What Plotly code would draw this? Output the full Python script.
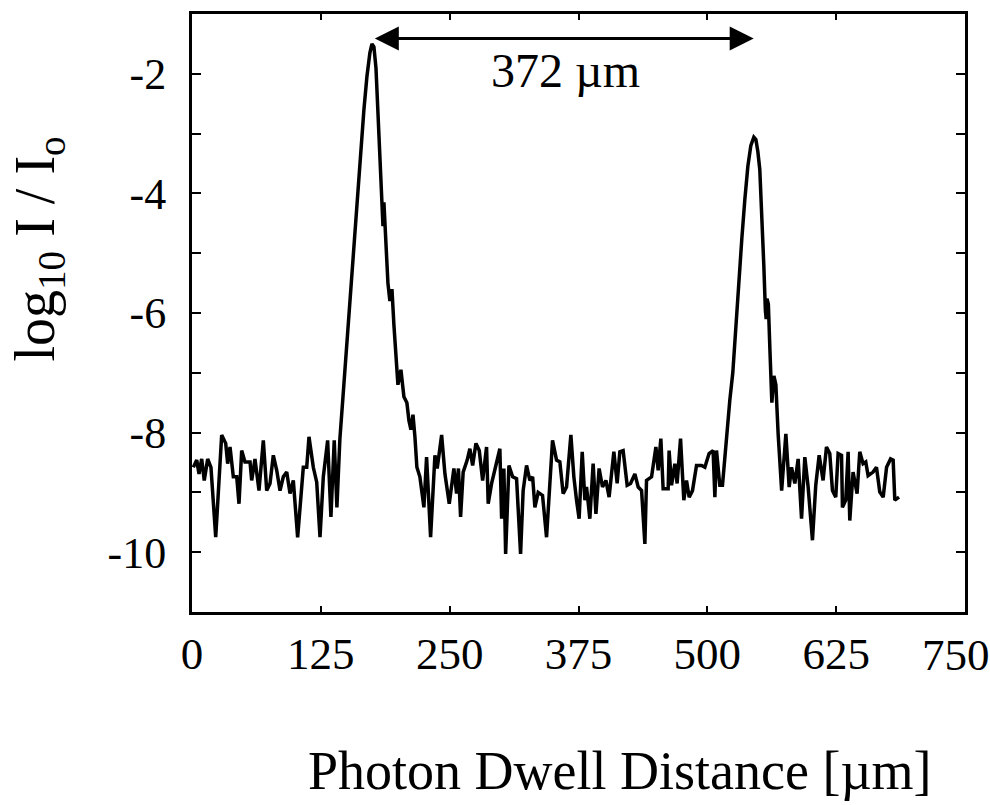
import plotly.graph_objects as go

# Photon dwell distance [um]
dist = [1.3, 4.6, 6.8, 9.4, 11.9, 15.2, 18.4, 23.0, 28.8, 32.7, 34.6, 36.9, 40.1, 43.4, 45.6,
        48.2, 51.4, 56.3, 57.9, 61.1, 65.0, 69.2, 72.5, 75.7, 78.9, 82.2, 85.4, 88.6, 91.9,
        95.1, 98.3, 102.5, 108.0, 111.3, 113.5, 117.7, 121.0, 124.2, 127.4, 131.6, 134.8,
        138.0, 140.6, 143.5, 146.5, 149.4, 152.3, 155.2, 158.1, 161.0, 163.9, 166.8, 169.7,
        172.6, 174.6, 176.5, 178.5, 180.4, 182.3, 184.3, 185.3, 186.2, 188.2, 190.1, 192.0,
        194.0, 195.9, 197.9, 199.8, 202.7, 205.6, 208.5, 210.5, 212.4, 214.4, 216.3, 218.2,
        221.1, 225.0, 227.6, 231.5, 235.7, 237.9, 242.2, 245.4, 249.6, 254.1, 256.7, 258.5,
        260.6, 263.1, 267.0, 269.6, 272.3, 275.5, 278.7, 282.0, 285.8, 287.4, 290.7, 293.9,
        298.7, 300.4, 302.6, 304.3, 307.5, 311.1, 314.9, 318.8, 321.3, 324.6, 327.8, 330.5,
        332.7, 335.9, 340.1, 344.0, 349.8, 353.7, 356.9, 360.1, 363.4, 367.6, 370.5, 373.1,
        375.6, 378.6, 381.2, 382.8, 386.0, 389.2, 391.9, 395.0, 398.3, 401.6, 404.7, 409.3,
        412.5, 415.1, 418.3, 422.2, 425.5, 429.7, 432.9, 436.2, 439.4, 441.0, 445.9, 450.1,
        452.3, 454.9, 457.1, 462.0, 462.9, 465.3, 468.5, 470.7, 474.0, 477.2, 479.8, 482.4,
        485.6, 489.5, 494.4, 497.6, 501.7, 505.6, 507.3, 508.9, 512.1, 514.7, 518.6, 521.8,
        524.7, 527.6, 530.6, 533.5, 536.4, 539.3, 542.2, 545.1, 547.1, 549.0, 550.9, 552.9,
        554.8, 556.3, 557.1, 557.8, 559.2, 560.7, 561.7, 562.6, 564.6, 566.5, 568.7, 572.1,
        576.2, 579.4, 581.7, 584.9, 588.1, 591.4, 594.6, 597.8, 602.0, 605.2, 608.5, 612.3,
        615.6, 618.8, 621.4, 624.6, 626.9, 630.2, 631.1, 634.3, 636.6, 638.2, 641.4, 645.3,
        647.9, 651.1, 653.7, 656.0, 660.8, 664.1, 667.3, 670.6, 673.9, 677.8, 680.3, 681.9,
        686.0]

# log10 I / Io
log_i = [-8.58, -8.46, -8.69, -8.44, -8.80, -8.44, -8.58, -9.75, -8.04, -8.18, -8.52, -8.24,
         -8.74, -8.74, -9.19, -8.30, -8.49, -8.49, -8.80, -8.44, -8.97, -8.13, -8.97, -8.85,
         -8.38, -8.63, -8.97, -8.74, -8.66, -9.02, -8.80, -9.75, -8.58, -8.58, -8.07, -8.58,
         -8.83, -9.75, -8.74, -8.13, -9.41, -8.13, -9.25, -8.10, -7.40, -6.70, -6.00, -5.30,
         -4.60, -3.90, -3.20, -2.60, -2.05, -1.65, -1.50, -1.55, -1.90, -2.60, -3.50, -4.20,
         -4.55, -4.15, -4.80, -5.50, -5.80, -5.60, -6.20, -6.80, -7.20, -6.95, -7.40, -7.50,
         -7.80, -7.95, -7.70, -8.07, -8.58, -8.74, -9.25, -8.41, -9.75, -8.38, -8.60, -8.04,
         -8.69, -9.19, -8.60, -9.02, -8.60, -9.41, -8.66, -8.46, -8.27, -8.55, -8.18, -8.30,
         -8.80, -8.24, -9.19, -8.85, -8.63, -8.27, -9.44, -8.60, -10.03, -8.55, -8.74, -8.77,
         -10.03, -8.97, -8.55, -8.80, -8.74, -9.25, -9.00, -9.05, -9.75, -8.13, -8.46, -8.49,
         -9.02, -8.91, -8.04, -8.74, -9.13, -9.44, -8.32, -9.13, -8.91, -9.44, -8.52, -9.36,
         -8.60, -8.91, -8.80, -9.08, -8.32, -8.85, -8.32, -8.30, -8.88, -8.85, -8.69, -8.91,
         -8.97, -9.86, -8.80, -8.74, -8.24, -8.63, -8.10, -8.94, -8.94, -8.30, -8.88, -8.52,
         -8.85, -8.10, -9.13, -8.80, -9.08, -8.97, -8.55, -8.55, -8.58, -8.35, -8.30, -9.08,
         -8.30, -8.88, -8.88, -8.02, -7.46, -7.00, -6.20, -5.40, -4.75, -4.10, -3.55, -3.20,
         -3.06, -3.10, -3.30, -3.60, -4.30, -5.20, -5.95, -6.10, -5.76, -5.85, -6.60, -7.05,
         -7.50, -7.05, -7.20, -8.02, -8.97, -8.02, -8.91, -8.58, -8.85, -8.44, -9.44, -8.41,
         -8.91, -9.80, -8.88, -8.38, -8.80, -8.24, -8.35, -8.97, -9.08, -8.35, -8.38, -9.25,
         -9.13, -8.32, -9.47, -8.66, -9.02, -8.32, -8.52, -8.49, -8.72, -8.66, -8.58, -8.99,
         -9.08, -8.58, -8.44, -8.46, -9.13, -9.08]

x_ticks = [0, 125, 250, 375, 500, 625, 750]
x_tick_text = ["0", "125", "250", "375", "500", "625", ""]
x_last_label = "750"
y_ticks = [-10, -8, -6, -4, -2]
y_tick_text = ["-10", "-8", "-6", "-4", "-2"]
y_minor = [-11, -9, -7, -5, -3, -1]

peak_left = 175.9
peak_right = 545.0
arrow_level = -1.41
label_text = "372 µm"

FONT = "Liberation Serif"

fig = go.Figure()
fig.add_trace(go.Scatter(x=dist, y=log_i, mode="lines",
                         line=dict(color="black", width=3.5), showlegend=False))

fig.update_layout(
    width=990, height=805,
    margin=dict(l=192, r=25, t=14, b=193, autoexpand=False),
    paper_bgcolor="white", plot_bgcolor="white",
    font=dict(family=FONT, color="black"),
    showlegend=False,
)

fig.update_xaxes(
    range=[0, 750], tickmode="array", tickvals=x_ticks, ticktext=x_tick_text,
    ticks="inside", ticklen=6, tickwidth=2, tickcolor="black",
    showline=True, linewidth=3, linecolor="black", mirror="ticks",
    showgrid=False, zeroline=False, automargin=False,
    tickfont=dict(family=FONT, size=45, color="black"),
    ticklabelstandoff=0,
)
fig.update_yaxes(
    range=[-11, -1], tickmode="array", tickvals=y_ticks, ticktext=y_tick_text,
    ticks="inside", ticklen=9, tickwidth=2, tickcolor="black",
    minor=dict(tickmode="array", tickvals=y_minor, ticks="inside", ticklen=9,
               tickwidth=2, tickcolor="black", showgrid=False),
    showline=True, linewidth=3, linecolor="black", mirror="ticks",
    showgrid=False, zeroline=False, automargin=False,
    tickfont=dict(family=FONT, size=44, color="black"),
    ticklabelstandoff=14,
)

# last x tick label, pulled slightly inward so it stays on the page
fig.add_annotation(x=x_ticks[-1], y=-0.072, xref="x", yref="paper", text=x_last_label,
                   showarrow=False, xshift=-9,
                   font=dict(family=FONT, size=45, color="black"),
                   xanchor="center", yanchor="middle")

# double-headed arrow between the two peaks
fig.add_annotation(x=peak_right, y=arrow_level, ax=peak_left, ay=arrow_level,
                   xref="x", yref="y", axref="x", ayref="y", text="",
                   showarrow=True, arrowhead=2, startarrowhead=2,
                   arrowside="end+start", arrowsize=1.6, startarrowsize=1.6,
                   arrowwidth=3, arrowcolor="black", standoff=0, startstandoff=0)
fig.add_annotation(x=362, y=-1.95, xref="x", yref="y", text=label_text,
                   showarrow=False, font=dict(family=FONT, size=48, color="black"),
                   xanchor="center", yanchor="middle")

# axis titles
fig.add_annotation(x=0.5537, y=-0.266, xref="paper", yref="paper",
                   text="Photon Dwell Distance [µm]", showarrow=False,
                   font=dict(family=FONT, size=54, color="black"),
                   xanchor="center", yanchor="middle")
fig.add_annotation(x=-0.1985, y=0.607, xref="paper", yref="paper",
                   text="log<sub>10</sub> I / I<sub>o</sub>", showarrow=False, textangle=-90,
                   font=dict(family=FONT, size=56, color="black"),
                   xanchor="center", yanchor="middle")

fig.write_html("out.html")
